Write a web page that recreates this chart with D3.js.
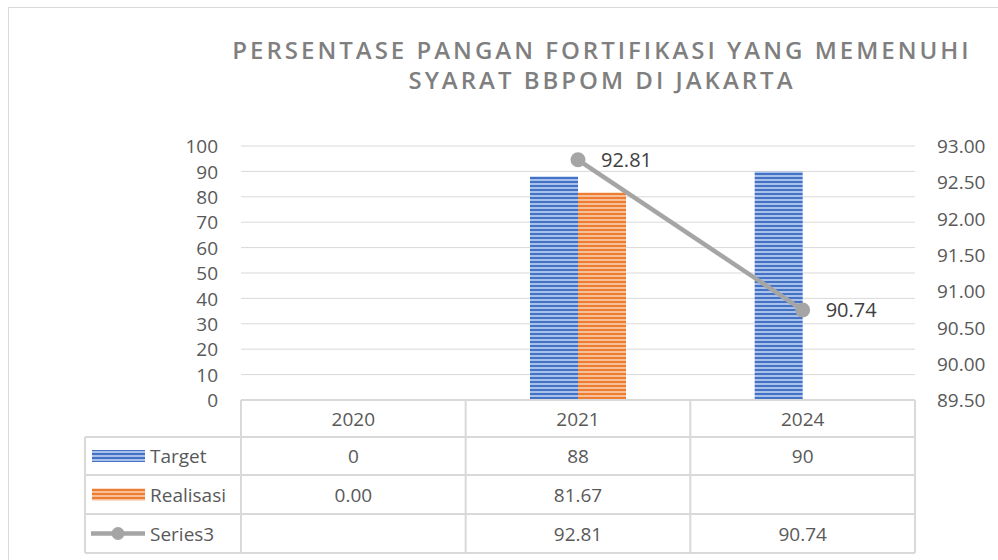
<!DOCTYPE html>
<html>
<head>
<meta charset="utf-8">
<script src="https://cdn.jsdelivr.net/npm/d3@7"></script>
<style>
  body { margin: 0; background: #fff; }
  text { font-family: "Open Sans", "Noto Sans", sans-serif; fill: #595959; }
</style>
</head>
<body>
<div id="vis"></div>
<script>
const FRAME_WIDTH = 998;
const FRAME_HEIGHT = 560;
const MARGINS = {left: 241, right: 83, top: 146, bottom: 160};

// data
const years = ['2020', '2021', '2024'];
const target = [0, 88, 90];
const realisasi = [0.00, 81.67, null];
const series3 = [null, 92.81, 90.74];

const targetLabels = ['0', '88', '90'];
const realisasiLabels = ['0.00', '81.67', ''];
const series3Labels = ['', '92.81', '90.74'];

const leftTicks = [0, 10, 20, 30, 40, 50, 60, 70, 80, 90, 100];
const rightTicks = [89.5, 90, 90.5, 91, 91.5, 92, 92.5, 93];

const VIS_WIDTH = FRAME_WIDTH - MARGINS.left - MARGINS.right;
const VIS_HEIGHT = 400 - MARGINS.top;

const svg = d3.select('#vis')
  .append('svg')
    .attr('width', FRAME_WIDTH)
    .attr('height', FRAME_HEIGHT);

// striped fills
const defs = svg.append('defs');
function stripes(id, dark, light) {
  const p = defs.append('pattern')
    .attr('id', id)
    .attr('patternUnits', 'userSpaceOnUse')
    .attr('width', 8).attr('height', 4);
  p.append('rect').attr('width', 8).attr('height', 4).attr('fill', light);
  p.append('rect').attr('y', 1).attr('width', 8).attr('height', 2).attr('fill', dark);
}
stripes('blueStripe', '#4472C4', '#a9c0ea');
stripes('orangeStripe', '#ED7D31', '#f7c09a');

// outer chart border
svg.append('rect')
  .attr('x', 8.5).attr('y', 7.5)
  .attr('width', 1100).attr('height', 700)
  .attr('fill', 'none')
  .attr('stroke', '#d9d9d9')
  .attr('stroke-width', 1);

// title
const title = svg.append('text')
  .attr('text-anchor', 'middle')
  .attr('font-size', 24)
  .attr('font-weight', 600)
  .attr('letter-spacing', 3)
  .style('fill', '#7f7f7f');
title.append('tspan').attr('x', 602).attr('y', 59).text('PERSENTASE PANGAN FORTIFIKASI YANG MEMENUHI');
title.append('tspan').attr('x', 602).attr('y', 89).text('SYARAT BBPOM DI JAKARTA');

// scales
const X_SCALE = d3.scaleBand()
  .domain(years)
  .range([MARGINS.left, MARGINS.left + VIS_WIDTH]);

const Y_SCALE = d3.scaleLinear()
  .domain([0, 100])
  .range([MARGINS.top + VIS_HEIGHT, MARGINS.top]);

const Y2_SCALE = d3.scaleLinear()
  .domain([89.5, 93])
  .range([MARGINS.top + VIS_HEIGHT, MARGINS.top]);

const BAR_W = 48;

// gridlines
svg.append('g')
  .selectAll('line')
  .data(leftTicks.slice(1))
  .enter()
  .append('line')
    .attr('x1', MARGINS.left)
    .attr('x2', MARGINS.left + VIS_WIDTH)
    .attr('y1', (d) => Y_SCALE(d))
    .attr('y2', (d) => Y_SCALE(d))
    .attr('stroke', '#d9d9d9')
    .attr('stroke-width', 1);

// left axis
const leftAxis = svg.append('g')
  .attr('transform', 'translate(' + (MARGINS.left - 23) + ',0)')
  .call(d3.axisLeft(Y_SCALE).tickValues(leftTicks).tickSize(0).tickPadding(0));
leftAxis.select('.domain').remove();
leftAxis.selectAll('text')
  .attr('font-size', 19)
  .attr('font-family', null)
  .attr('dy', '0.35em');

// right axis
const rightAxis = svg.append('g')
  .attr('transform', 'translate(' + (MARGINS.left + VIS_WIDTH + 22) + ',0)')
  .call(d3.axisRight(Y2_SCALE).tickValues(rightTicks).tickFormat(d3.format('.2f')).tickSize(0).tickPadding(0));
rightAxis.select('.domain').remove();
rightAxis.selectAll('text')
  .attr('font-size', 19)
  .attr('font-family', null)
  .attr('dy', '0.35em');

// bars
svg.append('g')
  .selectAll('rect')
  .data(years.map((y, i) => ({year: y, v: target[i]})).filter((d) => d.v > 0))
  .enter()
  .append('rect')
    .attr('x', (d) => X_SCALE(d.year) + X_SCALE.bandwidth() / 2 - BAR_W)
    .attr('y', (d) => Y_SCALE(d.v))
    .attr('width', BAR_W)
    .attr('height', (d) => Y_SCALE(0) - Y_SCALE(d.v))
    .attr('fill', 'url(#blueStripe)');

svg.append('g')
  .selectAll('rect')
  .data(years.map((y, i) => ({year: y, v: realisasi[i]})).filter((d) => d.v))
  .enter()
  .append('rect')
    .attr('x', (d) => X_SCALE(d.year) + X_SCALE.bandwidth() / 2)
    .attr('y', (d) => Y_SCALE(d.v))
    .attr('width', BAR_W)
    .attr('height', (d) => Y_SCALE(0) - Y_SCALE(d.v))
    .attr('fill', 'url(#orangeStripe)');

// line series
const linePts = years.map((y, i) => ({year: y, v: series3[i]})).filter((d) => d.v !== null);
const cx = (d) => X_SCALE(d.year) + X_SCALE.bandwidth() / 2;

svg.append('path')
  .datum(linePts)
  .attr('d', d3.line().x(cx).y((d) => Y2_SCALE(d.v)))
  .attr('fill', 'none')
  .attr('stroke', '#A5A5A5')
  .attr('stroke-width', 4.5);

svg.selectAll('.pt')
  .data(linePts)
  .enter()
  .append('circle')
    .attr('cx', cx)
    .attr('cy', (d) => Y2_SCALE(d.v))
    .attr('r', 7.5)
    .attr('fill', '#A5A5A5');

svg.selectAll('.lbl')
  .data(linePts)
  .enter()
  .append('text')
    .attr('x', (d) => cx(d) + 23)
    .attr('y', (d) => Y2_SCALE(d.v) + 7)
    .attr('font-size', 20)
    .style('fill', '#404040')
    .text((d) => d.v.toFixed(2));

// data table
const TBL_TOP = 400;
const rowY = [400, 437, 475, 514, 553];
const tableLeft = 85;
const tableRight = MARGINS.left + VIS_WIDTH;
const grid = svg.append('g').attr('stroke', '#d9d9d9').attr('stroke-width', 2);

// horizontal lines
rowY.forEach((y, i) => {
  grid.append('line')
    .attr('x1', i === 0 ? MARGINS.left : tableLeft)
    .attr('x2', tableRight)
    .attr('y1', y).attr('y2', y);
});
// vertical lines
const vx = [MARGINS.left].concat(years.map((y) => X_SCALE(y) + X_SCALE.bandwidth()));
vx.forEach((x) => {
  grid.append('line')
    .attr('x1', x).attr('x2', x)
    .attr('y1', TBL_TOP).attr('y2', rowY[4]);
});
grid.append('line')
  .attr('x1', tableLeft).attr('x2', tableLeft)
  .attr('y1', rowY[1]).attr('y2', rowY[4]);

// header row
svg.append('g')
  .selectAll('text')
  .data(years)
  .enter()
  .append('text')
    .attr('x', (d) => X_SCALE(d) + X_SCALE.bandwidth() / 2)
    .attr('y', (rowY[0] + rowY[1]) / 2 + 7)
    .attr('text-anchor', 'middle')
    .attr('font-size', 19)
    .text((d) => d);

const rows = [targetLabels, realisasiLabels, series3Labels];
rows.forEach((vals, r) => {
  svg.append('g')
    .selectAll('text')
    .data(vals)
    .enter()
    .append('text')
      .attr('x', (d, i) => X_SCALE(years[i]) + X_SCALE.bandwidth() / 2)
      .attr('y', (rowY[r + 1] + rowY[r + 2]) / 2 + 7)
      .attr('text-anchor', 'middle')
      .attr('font-size', 19)
      .text((d) => d);
});

// legend keys inside the table
const names = ['Target', 'Realisasi', 'Series3'];
names.forEach((n, r) => {
  const yMid = (rowY[r + 1] + rowY[r + 2]) / 2;
  if (r < 2) {
    svg.append('rect')
      .attr('x', 92).attr('y', yMid - 6)
      .attr('width', 53).attr('height', 12)
      .attr('fill', r === 0 ? 'url(#blueStripe)' : 'url(#orangeStripe)');
  } else {
    svg.append('line')
      .attr('x1', 91).attr('x2', 145)
      .attr('y1', yMid).attr('y2', yMid)
      .attr('stroke', '#A5A5A5').attr('stroke-width', 4.5);
    svg.append('circle')
      .attr('cx', 118).attr('cy', yMid).attr('r', 6.5)
      .attr('fill', '#A5A5A5');
  }
  svg.append('text')
    .attr('x', 150)
    .attr('y', yMid + 7)
    .attr('font-size', 19)
    .text(n);
});
</script>
</body>
</html>
